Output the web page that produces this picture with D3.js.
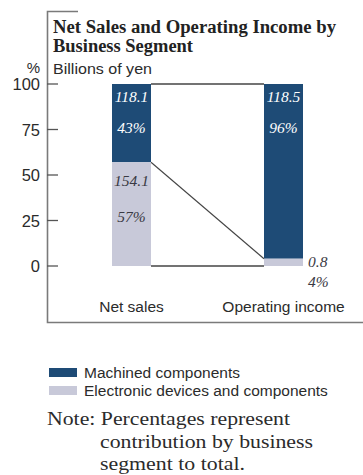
<!DOCTYPE html>
<html><head><meta charset="utf-8">
<script src="https://cdn.jsdelivr.net/npm/d3@7/dist/d3.min.js"></script>
<style>body{margin:0;background:#fff}svg{display:block}</style>
</head><body>
<script>
const categories = ["Net sales", "Operating income"];
const machinedValues = [118.1, 118.5];
const machinedPct = [43, 96];
const electronicValues = [154.1, 0.8];
const electronicPct = [57, 4];
const yTicks = [0, 25, 50, 75, 100];
const seriesNames = ["Machined components", "Electronic devices and components"];
const colors = ["#1e4b76", "#c8c9d9"];

const W = 363, H = 475;
const svg = d3.select("body").append("svg").attr("width", W).attr("height", H);
const serif = "'Liberation Serif','Times New Roman',serif";
const sans = "'Liberation Sans',Arial,sans-serif";
const textCol = "#2b2b2b";

const y = d3.scaleLinear().domain([0, 100]).range([266, 84]);
const x = d3.scalePoint().domain(categories).range([131.5, 283.5]);
const bw = 39;

// frame
svg.append("path").attr("d", "M78,11.5H47.5V322.5H363").attr("fill", "none").attr("stroke", "#7a7a7a").attr("stroke-width", 1.6);

// title
const title = svg.append("text").attr("font-family", serif).attr("font-weight", "bold").attr("font-size", 18.5).attr("fill", "#222");
title.append("tspan").attr("x", 53).attr("y", 33).attr("textLength", 283).attr("lengthAdjust", "spacingAndGlyphs").text("Net Sales and Operating Income by");
title.append("tspan").attr("x", 53).attr("y", 51.5).attr("textLength", 140).attr("lengthAdjust", "spacingAndGlyphs").text("Business Segment");
svg.append("text").attr("x", 53).attr("y", 74).attr("font-family", sans).attr("font-size", 15.5).attr("fill", textCol)
  .attr("textLength", 99).attr("lengthAdjust", "spacingAndGlyphs").text("Billions of yen");
svg.append("text").attr("x", 40).attr("y", 73).attr("text-anchor", "end").attr("font-family", sans).attr("font-size", 15).attr("fill", textCol).text("%");

// y axis
const yAxis = d3.axisLeft(y).tickValues(yTicks).tickSize(0).tickPadding(0);
const ga = svg.append("g").attr("transform", "translate(40,0)").call(yAxis);
ga.select(".domain").remove();
ga.selectAll("text").attr("font-family", sans).attr("font-size", 16.5).attr("fill", textCol).attr("dy", "0.36em");
svg.selectAll(".tickmark").data(yTicks).join("line")
  .attr("x1", 47).attr("x2", 58).attr("y1", d => y(d)).attr("y2", d => y(d))
  .attr("stroke", "#555").attr("stroke-width", 1.3);

// connectors
const x0r = x(categories[0]) + bw / 2, x1l = x(categories[1]) - bw / 2;
const conn = svg.append("g").attr("stroke", "#444").attr("stroke-width", 1.1).attr("fill", "none");
conn.append("line").attr("x1", x0r).attr("x2", x1l).attr("y1", y(100)).attr("y2", y(100)).attr("stroke-width", 1.4);
conn.append("line").attr("x1", x0r).attr("x2", x1l).attr("y1", y(0)).attr("y2", y(0)).attr("stroke-width", 1.4);
conn.append("line").attr("x1", x0r).attr("x2", x1l).attr("y1", y(electronicPct[0])).attr("y2", y(electronicPct[1]));

// bars
categories.forEach((c, i) => {
  const bx = x(c) - bw / 2;
  svg.append("rect").attr("x", bx).attr("width", bw).attr("y", y(100)).attr("height", y(electronicPct[i]) - y(100)).attr("fill", colors[0]);
  svg.append("rect").attr("x", bx).attr("width", bw).attr("y", y(electronicPct[i])).attr("height", y(0) - y(electronicPct[i])).attr("fill", colors[1]);
});

// bar labels
const lab = (tx, ty, t, fill, anchor) => svg.append("text").attr("x", tx).attr("y", ty).attr("text-anchor", anchor || "middle")
  .attr("font-family", serif).attr("font-style", "italic").attr("font-size", 15.5).attr("fill", fill).attr("dy", "0.35em").text(t);
categories.forEach((c, i) => {
  const cx = x(c);
  lab(cx, y(100) + 13, machinedValues[i].toFixed(1), "#fff");
  lab(cx, y(100) + 44, machinedPct[i] + "%", "#fff");
});
lab(x(categories[0]), y(electronicPct[0]) + 18, electronicValues[0].toFixed(1), "#3a3a44");
lab(x(categories[0]), y(electronicPct[0]) + 54, electronicPct[0] + "%", "#3a3a44");
lab(x(categories[1]) + bw / 2 + 5, y(electronicPct[1]) + 3, electronicValues[1].toFixed(1), "#3a3a44", "start");
lab(x(categories[1]) + bw / 2 + 5, y(electronicPct[1]) + 23, electronicPct[1] + "%", "#3a3a44", "start");

// category labels
svg.selectAll(".cat").data(categories).join("text")
  .attr("x", d => x(d)).attr("y", 307).attr("dy", "0.35em").attr("text-anchor", "middle")
  .attr("font-family", sans).attr("font-size", 15.5).attr("fill", textCol).text(d => d);

// legend
seriesNames.forEach((n, i) => {
  const ly = 372.5 + i * 18;
  svg.append("rect").attr("x", 49).attr("y", ly - 4.5).attr("width", 28).attr("height", 9).attr("fill", colors[i]);
  svg.append("text").attr("x", 84).attr("y", ly).attr("dy", "0.35em").attr("font-family", sans).attr("font-size", 15.5).attr("fill", textCol).text(n);
});

// note
const note = svg.append("text").attr("font-family", serif).attr("font-size", 19.5).attr("fill", textCol);
note.append("tspan").attr("x", 47).attr("y", 425).attr("textLength", 243).attr("lengthAdjust", "spacingAndGlyphs").text("Note: Percentages represent");
note.append("tspan").attr("x", 100).attr("y", 447.5).attr("textLength", 213).attr("lengthAdjust", "spacingAndGlyphs").text("contribution by business");
note.append("tspan").attr("x", 100).attr("y", 470).attr("textLength", 145).attr("lengthAdjust", "spacingAndGlyphs").text("segment to total.");
</script>
</body></html>
